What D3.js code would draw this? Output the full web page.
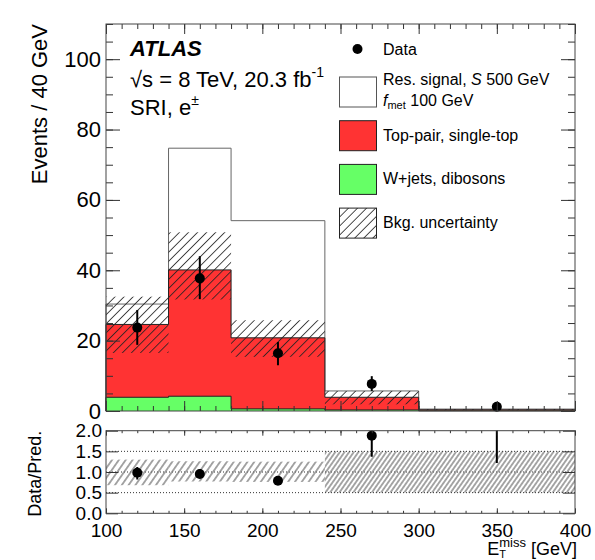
<!DOCTYPE html>
<html>
<head>
<meta charset="utf-8">
<script src="https://cdn.jsdelivr.net/npm/d3@7"></script>
<style>
	body { margin: 0; background: #fff; }
	svg { display: block; }
</style>
</head>
<body>
<script>
// values
var binEdges = [100, 140, 180, 240, 300, 400];
var wjets = [3.9, 4.2, 0.6, 0.3, 0.05];
var topPair = [20.7, 35.9, 20.2, 3.6, 0.3];
var signal = [5.8, 34.6, 33.3, 1.8, 0.2];
var bkgErrUp = [7.9, 10.7, 5.0, 1.8, 0.2];
var bkgErrDown = [8.1, 8.4, 5.4, 2.0, 0.2];

var dataX = [120, 160, 210, 270, 350];
var dataY = [23.7, 37.7, 16.4, 7.7, 1.2];
var dataErrUp = [5.0, 6.3, 3.2, 2.2, 0.7];
var dataErrDown = [4.9, 5.9, 3.4, 2.0, 0.6];

var ratio = [0.98, 0.95, 0.79, 1.88, 4.0];
var ratioErrUp = [0.14, 0.12, 0.1, 0.6, 1.5];
var ratioErrDown = [0.16, 0.1, 0.08, 0.51, 2.78];
var ratioBandLow = [0.68, 0.77, 0.76, 0.5, 0.5];
var ratioBandHigh = [1.3, 1.26, 1.25, 1.5, 1.5];
var ratioRefLines = [0.5, 1.0, 1.5];

var yTicks = [0, 20, 40, 60, 80, 100];
var xTicks = [100, 150, 200, 250, 300, 350, 400];
var ratioTicks = [0, 0.5, 1, 1.5, 2];

var font = '"Liberation Sans", Arial, Helvetica, sans-serif';
var red = '#ff3333';
var green = '#66ff66';

var left = 106, right = 575;
var mainTop = 24, mainBottom = 411;
var ratioTop = 430.7, ratioBottom = 513.3;

var svg = d3.select('body')
	.append('svg')
	.attr('width', 595)
	.attr('height', 560)
	.style('font-family', font);

svg.append('rect')
	.attr('width', 595)
	.attr('height', 560)
	.style('fill', '#fff');

var xScale = d3.scaleLinear().domain([100, 400]).range([left, right]);
var yScale = d3.scaleLinear().domain([0, 110]).range([mainBottom, mainTop]);
var rScale = d3.scaleLinear().domain([0, 2]).range([ratioBottom, ratioTop]);

// hatch patterns
var defs = svg.append('defs');

function hatch(id, size, angle) {
	defs.append('pattern')
		.attr('id', id)
		.attr('patternUnits', 'userSpaceOnUse')
		.attr('width', size)
		.attr('height', size)
		.attr('patternTransform', 'rotate(' + angle + ')')
		.append('line')
		.attr('x1', size / 2)
		.attr('y1', 0)
		.attr('x2', size / 2)
		.attr('y2', size)
		.style('stroke', '#222')
		.style('stroke-width', 0.8);
}
hatch('hatchMain', 6.4, 45);
hatch('hatchRatio', 5.6, 35);
hatch('hatchRatioFine', 3.8, 35);

defs.append('clipPath')
	.attr('id', 'clipRatio')
	.append('rect')
	.attr('x', left)
	.attr('y', ratioTop)
	.attr('width', right - left)
	.attr('height', ratioBottom - ratioTop);

// 1. Stacked histogram

var bins = d3.range(signal.length).map(function (i) {
	var g = wjets[i];
	var r = g + topPair[i];
	return {
		lo: binEdges[i],
		hi: binEdges[i + 1],
		green: g,
		red: r,
		total: r + signal[i],
		errUp: bkgErrUp[i],
		errDown: bkgErrDown[i]
	};
});

function steps(key) {
	var pts = [[binEdges[0], 0]];
	bins.forEach(function (b) {
		pts.push([b.lo, b[key]]);
		pts.push([b.hi, b[key]]);
	});
	pts.push([binEdges[binEdges.length - 1], 0]);
	return pts;
}

var area = d3.area()
	.x(function (d) { return xScale(d[0]); })
	.y0(yScale(0))
	.y1(function (d) { return yScale(d[1]); });

var outline = d3.line()
	.x(function (d) { return xScale(d[0]); })
	.y(function (d) { return yScale(d[1]); });

var layers = [
	{ key: 'total', fill: '#fff', stroke: '#666' },
	{ key: 'red', fill: red, stroke: '#222' },
	{ key: 'green', fill: green, stroke: '#222' }
];

var stack = svg.append('g');

layers.forEach(function (l) {
	stack.append('path')
		.attr('d', area(steps(l.key)))
		.style('fill', l.fill);
	stack.append('path')
		.attr('d', outline(steps(l.key)))
		.style('fill', 'none')
		.style('stroke', l.stroke)
		.style('stroke-width', 1);
});

stack.selectAll('rect.unc')
	.data(bins)
	.enter()
	.append('rect')
	.attr('class', 'unc')
	.attr('x', function (d) { return xScale(d.lo); })
	.attr('width', function (d) { return xScale(d.hi) - xScale(d.lo); })
	.attr('y', function (d) { return yScale(d.red + d.errUp); })
	.attr('height', function (d) { return yScale(d.red - d.errDown) - yScale(d.red + d.errUp); })
	.style('fill', 'url(#hatchMain)');

// data points
var points = svg.append('g')
	.selectAll('g')
	.data(dataX)
	.enter()
	.append('g');

points.append('line')
	.attr('x1', function (d) { return xScale(d); })
	.attr('x2', function (d) { return xScale(d); })
	.attr('y1', function (d, i) { return yScale(dataY[i] + dataErrUp[i]); })
	.attr('y2', function (d, i) { return yScale(dataY[i] - dataErrDown[i]); })
	.style('stroke', '#000')
	.style('stroke-width', 2);

points.append('circle')
	.attr('cx', function (d) { return xScale(d); })
	.attr('cy', function (d, i) { return yScale(dataY[i]); })
	.attr('r', 5)
	.style('fill', '#000');

// 2. Main panel axes (ROOT style, ticks inside on all sides)

function styleAxis(g, size) {
	g.select('.domain').remove();
	g.selectAll('line').style('stroke', '#333');
	g.attr('font-family', font).attr('font-size', size).attr('fill', '#000');
	g.selectAll('text').style('fill', '#000');
}

svg.append('g')
	.attr('transform', 'translate(' + left + ',0)')
	.call(d3.axisLeft(yScale).tickValues(yTicks).tickFormat(d3.format('d')).tickSize(-14).tickPadding(5))
	.call(styleAxis, 22);

svg.append('g')
	.attr('transform', 'translate(' + left + ',0)')
	.call(d3.axisLeft(yScale).tickValues(d3.range(0, 111, 5)).tickFormat('').tickSize(-7))
	.call(styleAxis, 22);

svg.append('g')
	.attr('transform', 'translate(' + right + ',0)')
	.call(d3.axisRight(yScale).tickValues(yTicks).tickFormat('').tickSize(-14))
	.call(styleAxis, 22);

svg.append('g')
	.attr('transform', 'translate(' + right + ',0)')
	.call(d3.axisRight(yScale).tickValues(d3.range(0, 111, 5)).tickFormat('').tickSize(-7))
	.call(styleAxis, 22);

[[mainTop, d3.axisTop], [mainBottom, d3.axisBottom]].forEach(function (a) {
	svg.append('g')
		.attr('transform', 'translate(0,' + a[0] + ')')
		.call(a[1](xScale).tickValues(xTicks).tickFormat('').tickSize(-10))
		.call(styleAxis, 22);
	svg.append('g')
		.attr('transform', 'translate(0,' + a[0] + ')')
		.call(a[1](xScale).tickValues(d3.range(100, 401, 10)).tickFormat('').tickSize(-5))
		.call(styleAxis, 22);
});

svg.append('rect')
	.attr('x', left)
	.attr('y', mainTop)
	.attr('width', right - left)
	.attr('height', mainBottom - mainTop)
	.style('fill', 'none')
	.style('stroke', '#444')
	.style('stroke-width', 1);

svg.append('text')
	.attr('transform', 'translate(47,' + mainTop + ') rotate(-90)')
	.style('text-anchor', 'end')
	.style('font-size', '22px')
	.text('Events / 40 GeV');

// labels
svg.append('text')
	.attr('x', 130)
	.attr('y', 56)
	.style('font-size', '22px')
	.style('font-weight', 'bold')
	.style('font-style', 'italic')
	.text('ATLAS');

var lumi = svg.append('text')
	.attr('x', 130)
	.attr('y', 87)
	.style('font-size', '22px');
lumi.append('tspan').text('\u221As = 8 TeV, 20.3 fb');
lumi.append('tspan').attr('dy', -10).style('font-size', '14px').text('-1');

var chan = svg.append('text')
	.attr('x', 130)
	.attr('y', 115)
	.style('font-size', '22px');
chan.append('tspan').text('SRI, e');
chan.append('tspan').attr('dy', -10).style('font-size', '14px').text('\u00B1');

// 3. Legend

var legendEntries = [
	{ type: 'marker' },
	{ type: 'box', fill: '#fff', stroke: '#555' },
	{ type: 'box', fill: red, stroke: '#222' },
	{ type: 'box', fill: green, stroke: '#222' },
	{ type: 'box', fill: 'url(#hatchMain)', stroke: '#222' }
];

var legend = svg.append('g')
	.style('font-size', '16px');

legend.selectAll('rect')
	.data(legendEntries.filter(function (d) { return d.type === 'box'; }))
	.enter()
	.append('rect')
	.attr('x', 339.5)
	.attr('y', function (d, i) { return 77 + i * 43.7; })
	.attr('width', 37)
	.attr('height', 30)
	.style('fill', function (d) { return d.fill; })
	.style('stroke', function (d) { return d.stroke; })
	.style('stroke-width', 1);

legend.append('circle')
	.attr('cx', 357.5)
	.attr('cy', 49)
	.attr('r', 5)
	.style('fill', '#000');

legend.append('text').attr('x', 383).attr('y', 54.5).text('Data');

var sigLabel = legend.append('text').attr('x', 383).attr('y', 85);
sigLabel.append('tspan').text('Res. signal, ');
sigLabel.append('tspan').style('font-style', 'italic').text('S');
sigLabel.append('tspan').text(' 500 GeV');

var fLabel = legend.append('text').attr('x', 383).attr('y', 106);
fLabel.append('tspan').style('font-style', 'italic').text('f');
fLabel.append('tspan').attr('dy', 3).style('font-size', '11px').text('met');
fLabel.append('tspan').attr('dy', -3).text(' 100 GeV');

legend.append('text').attr('x', 383).attr('y', 141).text('Top-pair, single-top');
legend.append('text').attr('x', 383).attr('y', 184).text('W+jets, dibosons');
legend.append('text').attr('x', 383).attr('y', 227.5).text('Bkg. uncertainty');

// 4. Ratio panel

var ratioPanel = svg.append('g')
	.attr('clip-path', 'url(#clipRatio)');

ratioPanel.selectAll('rect.band')
	.data(bins)
	.enter()
	.append('rect')
	.attr('class', 'band')
	.attr('x', function (d) { return xScale(d.lo); })
	.attr('width', function (d) { return xScale(d.hi) - xScale(d.lo); })
	.attr('y', function (d, i) { return rScale(ratioBandHigh[i]); })
	.attr('height', function (d, i) { return rScale(ratioBandLow[i]) - rScale(ratioBandHigh[i]); })
	.style('fill', function (d, i) {
		return d.lo < 240 ? 'url(#hatchRatio)' : 'url(#hatchRatioFine)';
	});

ratioPanel.selectAll('line.ref')
	.data(ratioRefLines)
	.enter()
	.append('line')
	.attr('class', 'ref')
	.attr('x1', left)
	.attr('x2', right)
	.attr('y1', function (d) { return rScale(d); })
	.attr('y2', function (d) { return rScale(d); })
	.style('stroke', function (d) { return d === 1 ? '#777' : '#333'; })
	.style('stroke-width', function (d) { return d === 1 ? 1.5 : 1; })
	.style('stroke-dasharray', '1,2');

var rPoints = ratioPanel.selectAll('g.rp')
	.data(dataX)
	.enter()
	.append('g')
	.attr('class', 'rp');

rPoints.append('line')
	.attr('x1', function (d) { return xScale(d); })
	.attr('x2', function (d) { return xScale(d); })
	.attr('y1', function (d, i) { return rScale(ratio[i] + ratioErrUp[i]); })
	.attr('y2', function (d, i) { return rScale(ratio[i] - ratioErrDown[i]); })
	.style('stroke', '#000')
	.style('stroke-width', 2);

rPoints.append('circle')
	.attr('cx', function (d) { return xScale(d); })
	.attr('cy', function (d, i) { return rScale(ratio[i]); })
	.attr('r', 5)
	.style('fill', '#000');

svg.append('g')
	.attr('transform', 'translate(' + left + ',0)')
	.call(d3.axisLeft(rScale).tickValues(ratioTicks).tickFormat(d3.format('.1f')).tickSize(-12).tickPadding(4))
	.call(styleAxis, 19);

svg.append('g')
	.attr('transform', 'translate(' + right + ',0)')
	.call(d3.axisRight(rScale).tickValues(ratioTicks).tickFormat('').tickSize(-12))
	.call(styleAxis, 19);

svg.append('g')
	.attr('transform', 'translate(0,' + ratioBottom + ')')
	.call(d3.axisBottom(xScale).tickValues(xTicks).tickFormat(d3.format('d')).tickSize(-5).tickPadding(10))
	.call(styleAxis, 19);

svg.append('g')
	.attr('transform', 'translate(0,' + ratioBottom + ')')
	.call(d3.axisBottom(xScale).tickValues(d3.range(100, 401, 10)).tickFormat('').tickSize(-2.5))
	.call(styleAxis, 19);

svg.append('g')
	.attr('transform', 'translate(0,' + ratioTop + ')')
	.call(d3.axisTop(xScale).tickValues(xTicks).tickFormat('').tickSize(-5))
	.call(styleAxis, 19);

svg.append('g')
	.attr('transform', 'translate(0,' + ratioTop + ')')
	.call(d3.axisTop(xScale).tickValues(d3.range(100, 401, 10)).tickFormat('').tickSize(-2.5))
	.call(styleAxis, 19);

svg.append('rect')
	.attr('x', left)
	.attr('y', ratioTop)
	.attr('width', right - left)
	.attr('height', ratioBottom - ratioTop)
	.style('fill', 'none')
	.style('stroke', '#444')
	.style('stroke-width', 1);

svg.append('text')
	.attr('transform', 'translate(41,' + ratioTop + ') rotate(-90)')
	.style('text-anchor', 'end')
	.style('font-size', '18px')
	.text('Data/Pred.');

var xTitle = svg.append('text')
	.attr('x', 577)
	.attr('y', 555)
	.style('text-anchor', 'end')
	.style('font-size', '18px');
xTitle.append('tspan').text('E');
xTitle.append('tspan').attr('dy', 3).style('font-size', '11px').text('T');
xTitle.append('tspan').attr('dx', -6.7).attr('dy', -11).style('font-size', '13px').text('miss');
xTitle.append('tspan').attr('dy', 8).text(' [GeV]');
</script>
</body>
</html>
